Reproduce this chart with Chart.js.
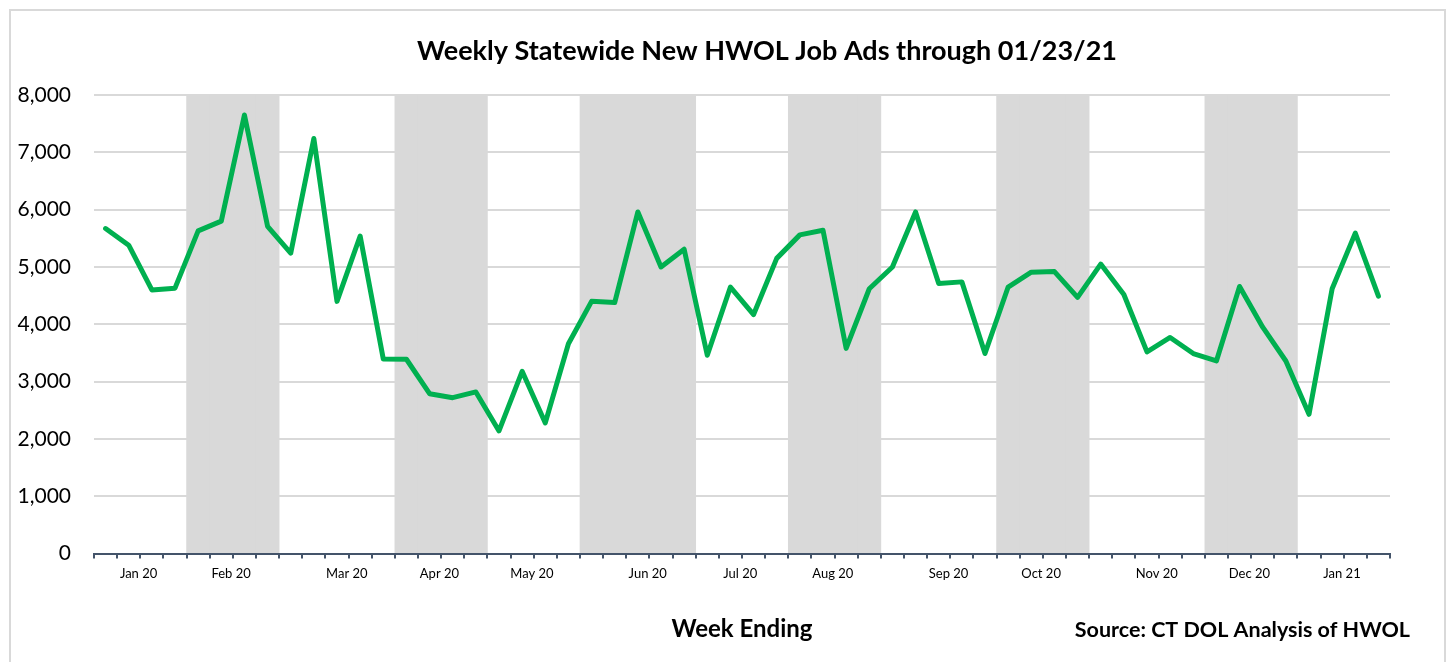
<!DOCTYPE html>
<html lang="en">

<head>
    <meta charset="UTF-8">
    <title>HWOL Job Ads</title>
    <script src="https://cdn.jsdelivr.net/npm/chart.js"></script>
    <style>
        body {
            margin: 0;
            background: #ffffff;
        }

        #frame {
            position: absolute;
            left: 9px;
            top: 9px;
            width: 1433px;
            height: 670px;
            border: 2px solid #d9d9d9;
        }

        #adsChart {
            position: absolute;
            left: 0;
            top: 0;
        }
    </style>
</head>

<body>
    <div id="frame"></div>
    <canvas id="adsChart" width="1453" height="662"></canvas>
    <script>
        // week ending dates (Saturdays)
        const weekEnding = [
            '1/4/20', '1/11/20', '1/18/20', '1/25/20',
            '2/1/20', '2/8/20', '2/15/20', '2/22/20', '2/29/20',
            '3/7/20', '3/14/20', '3/21/20', '3/28/20',
            '4/4/20', '4/11/20', '4/18/20', '4/25/20',
            '5/2/20', '5/9/20', '5/16/20', '5/23/20', '5/30/20',
            '6/6/20', '6/13/20', '6/20/20', '6/27/20',
            '7/4/20', '7/11/20', '7/18/20', '7/25/20',
            '8/1/20', '8/8/20', '8/15/20', '8/22/20', '8/29/20',
            '9/5/20', '9/12/20', '9/19/20', '9/26/20',
            '10/3/20', '10/10/20', '10/17/20', '10/24/20', '10/31/20',
            '11/7/20', '11/14/20', '11/21/20', '11/28/20',
            '12/5/20', '12/12/20', '12/19/20', '12/26/20',
            '1/2/21', '1/9/21', '1/16/21', '1/23/21'
        ]

        const newJobAds = [
            5670, 5380, 4600, 4630,
            5630, 5800, 7650, 5710, 5240,
            7240, 4400, 5540, 3395,
            3390, 2790, 2720, 2820,
            2140, 3180, 2280, 3660, 4400,
            4380, 5960, 5000, 5310,
            3460, 4650, 4170, 5150,
            5560, 5640, 3580, 4620, 5000,
            5960, 4710, 4740, 3490,
            4650, 4910, 4920, 4470, 5050,
            4520, 3520, 3770, 3490,
            3360, 4660, 3950, 3360,
            2430, 4620, 5590, 4490
        ]

        // alternating month shading (1 = shaded week)
        const shadedWeek = [
            0, 0, 0, 0,
            1, 1, 1, 1, 0,
            0, 0, 0, 0,
            1, 1, 1, 1,
            0, 0, 0, 0, 1,
            1, 1, 1, 1,
            0, 0, 0, 0,
            1, 1, 1, 1, 0,
            0, 0, 0, 0,
            1, 1, 1, 1, 0,
            0, 0, 0, 0,
            1, 1, 1, 1,
            0, 0, 0, 0
        ]

        const monthTickLabels = ['Jan 20', 'Feb 20', 'Mar 20', 'Apr 20', 'May 20', 'Jun 20',
            'Jul 20', 'Aug 20', 'Sep 20', 'Oct 20', 'Nov 20', 'Dec 20', 'Jan 21']

        const yMax = 8000
        const yStep = 1000

        const chartTitle = 'Weekly Statewide New HWOL Job Ads through 01/23/21'
        const xTitle = 'Week Ending'
        const sourceNote = 'Source: CT DOL Analysis of HWOL'

        // put a month label on the first week of each month
        const tickText = []
        let monthIdx = -1
        let lastMonth = null
        weekEnding.forEach(d => {
            const m = d.split('/')[0] + '/' + d.split('/')[2]
            if (m !== lastMonth) {
                monthIdx++
                tickText.push(monthTickLabels[monthIdx])
                lastMonth = m
            } else {
                tickText.push('')
            }
        })

        const textPlugin = {
            id: 'extraText',
            afterDraw(chart) {
                const ctx = chart.ctx
                ctx.save()
                ctx.fillStyle = '#000000'
                ctx.textBaseline = 'middle'
                ctx.font = 'bold 27px Lato'
                ctx.textAlign = 'center'
                ctx.fillText(chartTitle, 767, 51)
                ctx.font = 'bold 21.5px Lato'
                ctx.textAlign = 'right'
                ctx.fillText(sourceNote, 1410, 630)
                ctx.restore()
            }
        }

        const ctx = document.getElementById('adsChart')

        new Chart(ctx, {
            data: {
                labels: weekEnding,
                datasets: [{
                    type: 'line',
                    label: 'New Job Ads',
                    data: newJobAds,
                    borderColor: '#00b050',
                    borderWidth: 5,
                    pointRadius: 0,
                    tension: 0,
                    borderJoinStyle: 'round',
                    borderCapStyle: 'round',
                    order: 0
                }, {
                    type: 'bar',
                    label: 'shade',
                    data: shadedWeek.map(s => s ? yMax : null),
                    backgroundColor: '#d9d9d9',
                    barPercentage: 1,
                    categoryPercentage: 1,
                    order: 1
                }]
            },
            options: {
                responsive: false,
                animation: false,
                devicePixelRatio: 1,
                layout: {
                    padding: { left: 0, right: 63, top: 95, bottom: 18 }
                },
                plugins: {
                    legend: { display: false },
                    tooltip: { enabled: false }
                },
                scales: {
                    x: {
                        offset: true,
                        grid: {
                            offset: true,
                            drawOnChartArea: false,
                            color: '#44546a',
                            lineWidth: 2,
                            tickLength: 5
                        },
                        border: { color: '#44546a', width: 2 },
                        ticks: {
                            autoSkip: false,
                            maxRotation: 0,
                            minRotation: 0,
                            padding: 7,
                            labelOffset: 33,
                            color: '#000000',
                            font: { family: 'Lato', size: 13 },
                            callback: (v, i) => tickText[i]
                        },
                        title: {
                            display: true,
                            text: xTitle,
                            color: '#000000',
                            font: { family: 'Lato', size: 24, weight: 'bold' },
                            padding: { top: 27, bottom: 0 }
                        }
                    },
                    y: {
                        min: 0,
                        max: yMax,
                        afterFit: (scale) => { scale.width = 94 },
                        grid: {
                            color: '#d9d9d9',
                            lineWidth: 2,
                            drawTicks: false
                        },
                        border: { display: false },
                        ticks: {
                            stepSize: yStep,
                            padding: 23,
                            color: '#000000',
                            font: { family: 'Lato', size: 21 },
                            callback: (v) => v.toLocaleString('en-US')
                        }
                    }
                }
            },
            plugins: [textPlugin]
        })
    </script>
</body>

</html>
